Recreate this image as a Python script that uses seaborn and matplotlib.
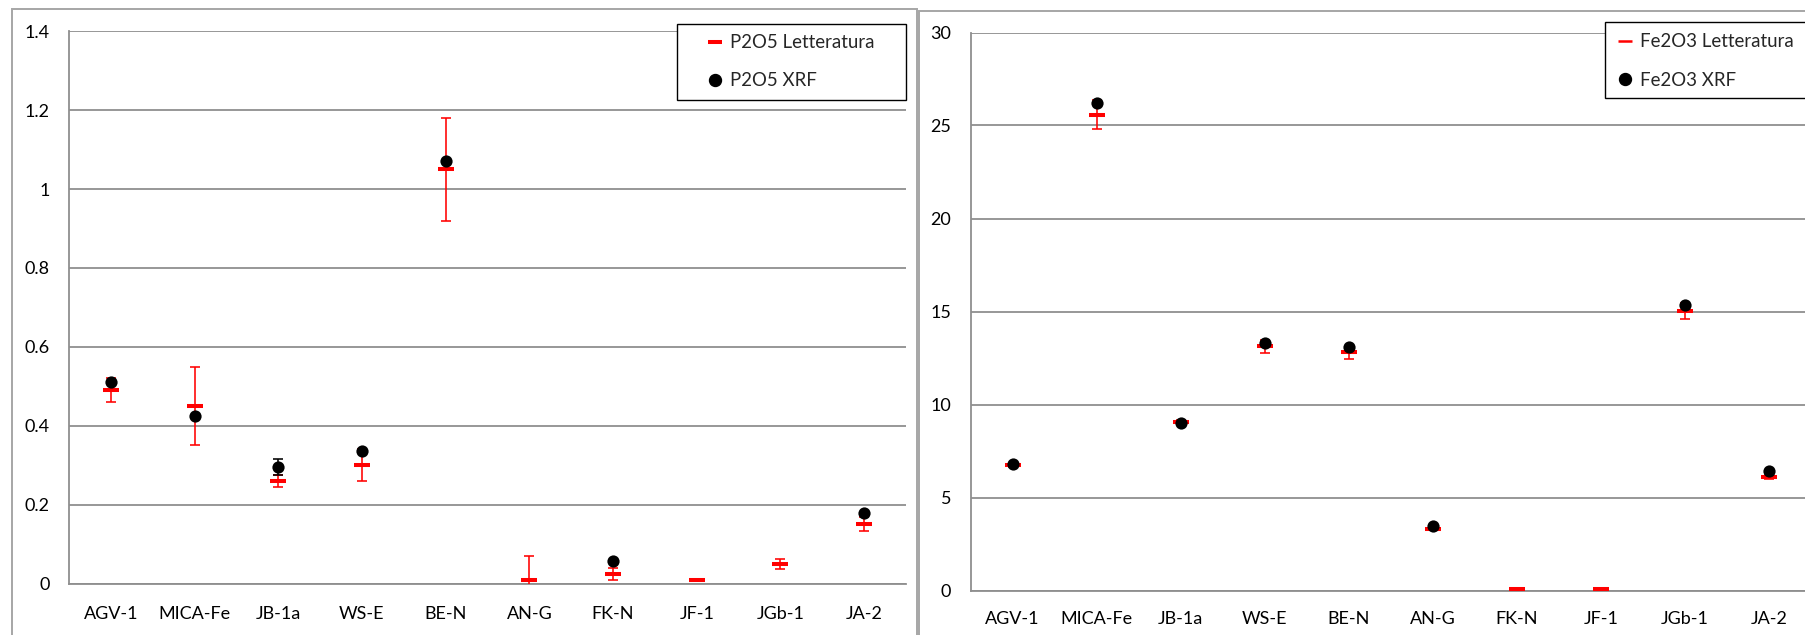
import numpy as np
import pandas as pd
import matplotlib
matplotlib.use("Agg")
import matplotlib.pyplot as plt
from matplotlib.lines import Line2D
from matplotlib.patches import Rectangle
from matplotlib.ticker import FuncFormatter
import seaborn as sns

# Reference materials
samples = ["AGV-1", "MICA-Fe", "JB-1a", "WS-E", "BE-N", "AN-G", "FK-N", "JF-1", "JGb-1", "JA-2"]

# P2O5 (wt%)
p2o5_lit = [0.49, 0.45, 0.26, 0.30, 1.05, 0.01, 0.024, 0.008, 0.049, 0.15]
p2o5_lit_err = [0.03, 0.10, 0.015, 0.04, 0.13, 0.06, 0.015, 0.002, 0.013, 0.018]
p2o5_xrf = [0.51, 0.425, 0.295, 0.335, 1.07, np.nan, 0.056, np.nan, np.nan, 0.18]
p2o5_xrf_err = [0.0, 0.0, 0.02, 0.0, 0.0, 0.0, 0.0, 0.0, 0.0, 0.0]

# Fe2O3 (wt%)
fe2o3_lit = [6.76, 25.58, 9.05, 13.13, 12.80, 3.33, 0.09, 0.06, 15.03, 6.10]
fe2o3_lit_err = [0.10, 0.77, 0.10, 0.35, 0.34, 0.10, 0.02, 0.02, 0.42, 0.10]
fe2o3_xrf = [6.79, 26.19, 9.03, 13.30, 13.11, 3.46, np.nan, np.nan, 15.33, 6.40]

W, H = 1805, 635
DPI = 100

sns.set_theme(style="white")
plt.rcParams["font.family"] = ["Lato", "DejaVu Sans"]

GRID = "#8f8f8f"
FRAME = "#a6a6a6"
FS = 13.0
LEG_FS = 13.4

fig = plt.figure(figsize=(W / DPI, H / DPI), dpi=DPI)
fig.patch.set_facecolor("white")


def fig_box(x0, y0, x1, y1):
    """Pixel box (top-left origin) -> figure fraction [l, b, w, h]."""
    return [x0 / W, 1 - y1 / H, (x1 - x0) / W, (y1 - y0) / H]


# Chart-area frames
fig.patches.append(Rectangle((11.7 / W, -0.05), (917 - 11.7) / W, 1 - 8.7 / H + 0.05,
                             transform=fig.transFigure, fill=False,
                             edgecolor=FRAME, linewidth=1.4, zorder=0))
fig.patches.append(Rectangle((918.5 / W, -0.05), (1830 - 918.5) / W, 1 - 10.7 / H + 0.05,
                             transform=fig.transFigure, fill=False,
                             edgecolor=FRAME, linewidth=1.4, zorder=0))


def draw_panel(ax, lit, lit_err, xrf, xrf_err, ymax, ystep, xlab_pad):
    n = len(samples)
    df = pd.DataFrame({"sample": samples, "pos": np.arange(n),
                       "lit": lit, "lit_err": lit_err, "xrf": xrf})
    ax.set_xlim(-0.5, n - 0.5)
    ax.set_ylim(0, ymax)

    # horizontal grid
    ax.set_yticks(np.arange(0, ymax + ystep / 2, ystep))
    ax.yaxis.grid(True, color=GRID, linewidth=1.3)
    ax.xaxis.grid(False)
    ax.set_axisbelow(True)

    # literature values with uncertainty
    ax.errorbar(df["pos"], df["lit"], yerr=df["lit_err"], fmt="none",
                ecolor="red", elinewidth=1.15, capsize=3.6, capthick=1.15, zorder=3)
    sns.scatterplot(data=df, x="pos", y="lit", ax=ax, marker="_", s=11.5 ** 2,
                    color="red", linewidth=2.9, zorder=4, legend=False)

    # measured values
    if xrf_err is not None:
        m = ~np.isnan(np.asarray(xrf, dtype=float)) & (np.asarray(xrf_err) > 0)
        ax.errorbar(df["pos"][m], df["xrf"][m], yerr=np.asarray(xrf_err)[m], fmt="none",
                    ecolor="black", elinewidth=1.15, capsize=3.6, capthick=1.15, zorder=5)
    sns.scatterplot(data=df, x="pos", y="xrf", ax=ax, marker="o", s=8.8 ** 2,
                    color="black", edgecolor="black", linewidth=0, zorder=6, legend=False)

    # categorical axis: labels at centres, ticks at boundaries
    ax.set_xticks(np.arange(n))
    ax.set_xticklabels(samples)
    ax.set_xticks(np.arange(-0.5, n, 1.0), minor=True)
    ax.tick_params(axis="x", which="major", length=0, pad=xlab_pad, labelsize=FS, colors="black")
    ax.tick_params(axis="x", which="minor", length=4.5, width=1.3, color=GRID, direction="out")
    ax.tick_params(axis="y", which="major", length=4.5, width=1.3, color=GRID, direction="out",
                   pad=9.5, labelsize=FS, labelcolor="black")
    ax.set_xlabel("")
    ax.set_ylabel("")

    for side in ("top", "right"):
        ax.spines[side].set_visible(False)
    for side in ("left", "bottom"):
        ax.spines[side].set_color(GRID)
        ax.spines[side].set_linewidth(1.3)


axL = fig.add_axes(fig_box(69, 31.3, 906, 583.5))
draw_panel(axL, p2o5_lit, p2o5_lit_err, p2o5_xrf, p2o5_xrf_err, 1.4, 0.2, 16)
axL.yaxis.set_major_formatter(FuncFormatter(
    lambda v, _: ("%.1f" % v).rstrip("0").rstrip(".") if v else "0"))

axR = fig.add_axes(fig_box(970.5, 32.5, 1811, 590.5))
draw_panel(axR, fe2o3_lit, fe2o3_lit_err, fe2o3_xrf, None, 30, 5, 15)


def legend_box(x0, y0, x1, y1):
    fig.patches.append(Rectangle((x0 / W, 1 - y1 / H), (x1 - x0) / W, (y1 - y0) / H,
                                 transform=fig.transFigure, facecolor="white",
                                 edgecolor="black", linewidth=1.0, zorder=10))


def add_legend(labels, dash_lw, text_left, row1, row2):
    """Legend whose first label starts at text_left px, rows centred at row1/row2 px."""
    handles = [
        Line2D([], [], linestyle="none", marker="_", markersize=9.4,
               markeredgewidth=dash_lw, color="red"),
        Line2D([], [], linestyle="none", marker="o", markersize=8.6,
               markerfacecolor="black", markeredgecolor="black"),
    ]
    fs_px = LEG_FS * DPI / 72
    spacing = 0.9
    anchor = [text_left - 20, row1 - 10]
    leg = None
    for _ in range(4):
        if leg is not None:
            leg.remove()
        leg = fig.legend(handles, labels, loc="upper left",
                         bbox_to_anchor=(anchor[0] / W, 1 - anchor[1] / H),
                         bbox_transform=fig.transFigure, frameon=False, fontsize=LEG_FS,
                         borderpad=0, borderaxespad=0, handlelength=1.0,
                         handletextpad=0.3, labelspacing=spacing, numpoints=1)
        leg.set_zorder(11)
        fig.canvas.draw()
        r = fig.canvas.get_renderer()
        t1, t2 = [t.get_window_extent(r) for t in leg.get_texts()]
        c1 = H - (t1.y0 + t1.y1) / 2
        c2 = H - (t2.y0 + t2.y1) / 2
        spacing += ((row2 - row1) - (c2 - c1)) / fs_px
        anchor[0] += text_left - t1.x0
        anchor[1] += row1 - c1
    return leg


legend_box(677, 24, 906, 100)
add_legend(["P2O5 Letteratura", "P2O5 XRF"], 2.9, 730, 43, 81)

legend_box(1605, 21.7, 1830, 98)
add_legend(["Fe2O3 Letteratura", "Fe2O3 XRF"], 1.8, 1640, 41.7, 80)

fig.savefig("out.png", dpi=DPI, facecolor="white")
